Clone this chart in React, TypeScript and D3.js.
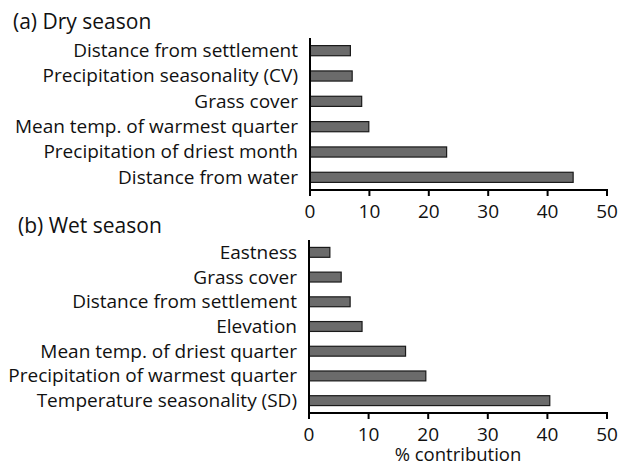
import React from "react";
import * as d3 from "d3";

const dryLabels = [
  "Distance from settlement",
  "Precipitation seasonality (CV)",
  "Grass cover",
  "Mean temp. of warmest quarter",
  "Precipitation of driest month",
  "Distance from water",
];
const dryValues = [6.8, 7.1, 8.7, 9.9, 23.0, 44.3];

const wetLabels = [
  "Eastness",
  "Grass cover",
  "Distance from settlement",
  "Elevation",
  "Mean temp. of driest quarter",
  "Precipitation of warmest quarter",
  "Temperature seasonality (SD)",
];
const wetValues = [3.5, 5.4, 6.9, 8.9, 16.2, 19.6, 40.4];

const xTicks = [0, 10, 20, 30, 40, 50];

const FONT = "'Open Sans', sans-serif";

type PanelProps = {
  title: string;
  titleX: number;
  titleY: number;
  labels: string[];
  values: number[];
  x0: number;
  x1: number;
  yTop: number;
  yBottom: number;
  xLabel?: string;
};

function Panel({ title, titleX, titleY, labels, values, x0, x1, yTop, yBottom, xLabel }: PanelProps) {
  const x = d3.scaleLinear().domain([0, 50]).range([x0, x1]);
  const y = d3
    .scaleBand<string>()
    .domain(labels)
    .range([yTop, yBottom])
    .paddingInner(0.6)
    .paddingOuter(0.3);
  return (
    <g>
      <text x={titleX} y={titleY} fontFamily={FONT} fontSize={21} fill="#111">
        {title}
      </text>
      {labels.map((l, i) => (
        <g key={l}>
          <rect
            x={x(0)}
            y={y(l)!}
            width={x(values[i]) - x(0)}
            height={y.bandwidth()}
            fill="#6b6b6b"
            stroke="#1a1a1a"
            strokeWidth={1.2}
          />
          <text
            x={x0 - 12}
            y={y(l)! + y.bandwidth() / 2}
            dy="0.34em"
            textAnchor="end"
            fontFamily={FONT}
            fontSize={19}
            fill="#111"
          >
            {l}
          </text>
        </g>
      ))}
      <line x1={x0} x2={x0} y1={yTop} y2={yBottom + 1} stroke="#000" strokeWidth={2} />
      <line x1={x0 - 1} x2={x1 + 1} y1={yBottom} y2={yBottom} stroke="#000" strokeWidth={2} />
      {xTicks.map((t) => (
        <g key={t}>
          <line x1={x(t)} x2={x(t)} y1={yBottom} y2={yBottom + 6} stroke="#000" strokeWidth={2} />
          <text
            x={x(t)}
            y={yBottom + 21}
            dy="0.36em"
            textAnchor="middle"
            fontFamily={FONT}
            fontSize={19}
            fill="#111"
          >
            {t}
          </text>
        </g>
      ))}
      {xLabel && (
        <text
          x={(x0 + x1) / 2}
          y={461}
          textAnchor="middle"
          fontFamily={FONT}
          fontSize={18.5}
          fill="#111"
        >
          {xLabel}
        </text>
      )}
    </g>
  );
}

export default function App() {
  return (
    <svg
      width={619}
      height={466}
      style={{ position: "absolute", left: 0, top: 0, background: "#fff" }}
    >
      <Panel
        title="(a) Dry season"
        titleX={13}
        titleY={29}
        labels={dryLabels}
        values={dryValues}
        x0={310}
        x1={607}
        yTop={38}
        yBottom={190}
      />
      <Panel
        title="(b) Wet season"
        titleX={18}
        titleY={233}
        labels={wetLabels}
        values={wetValues}
        x0={309}
        x1={607}
        yTop={240}
        yBottom={413}
        xLabel="% contribution"
      />
    </svg>
  );
}
